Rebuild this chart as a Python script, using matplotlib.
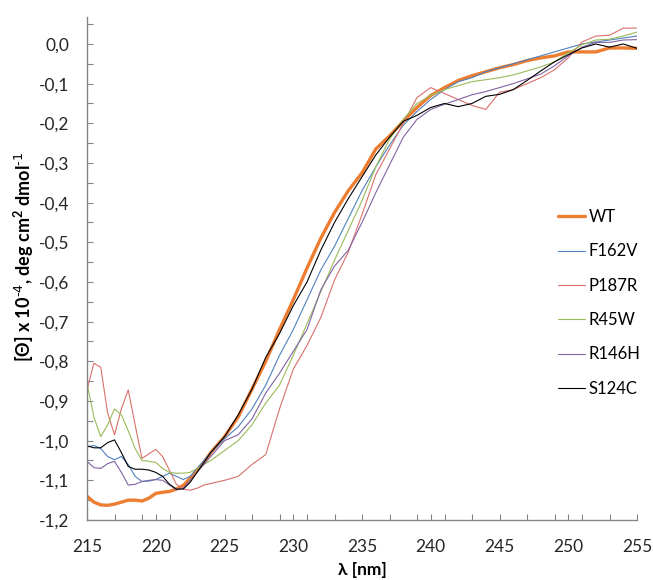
import matplotlib
matplotlib.use("Agg")
import matplotlib.pyplot as plt
from matplotlib.ticker import FixedLocator, FuncFormatter, MultipleLocator

# ---- data ----
wavelength = [215, 215.5, 216, 216.5, 217, 217.5, 218, 218.5, 219, 219.5,
              220, 220.5, 221, 221.5, 222, 222.5, 223, 223.5, 224,
              225, 226, 227, 228, 229, 230, 231, 232, 233, 234, 235,
              236, 237, 238, 239, 240, 241, 242, 243, 244, 245,
              246, 247, 248, 249, 250, 251, 252, 253, 254, 255]

wt = [-1.140, -1.155, -1.162, -1.163, -1.160, -1.155, -1.150, -1.150, -1.152, -1.145,
      -1.133, -1.130, -1.128, -1.122, -1.113, -1.095, -1.075, -1.055, -1.030,
      -0.990, -0.940, -0.870, -0.800, -0.720, -0.645, -0.565, -0.490, -0.425, -0.370, -0.325,
      -0.265, -0.232, -0.195, -0.160, -0.130, -0.110, -0.092, -0.080, -0.070, -0.060,
      -0.052, -0.042, -0.035, -0.030, -0.020, -0.020, -0.020, -0.010, -0.010, -0.011]

f162v = [-1.016, -1.012, -1.020, -1.040, -1.048, -1.040, -1.060, -1.090, -1.103, -1.102,
         -1.098, -1.090, -1.082, -1.090, -1.098, -1.090, -1.070, -1.050, -1.030,
         -0.995, -0.965, -0.920, -0.860, -0.785, -0.720, -0.645, -0.570, -0.510, -0.440, -0.370,
         -0.310, -0.255, -0.205, -0.170, -0.140, -0.115, -0.095, -0.085, -0.070, -0.060,
         -0.050, -0.040, -0.030, -0.020, -0.010, 0.000, 0.005, 0.010, 0.015, 0.020]

p187r = [-0.872, -0.805, -0.815, -0.930, -0.985, -0.920, -0.872, -0.960, -1.045, -1.033,
         -1.022, -1.040, -1.075, -1.110, -1.122, -1.125, -1.120, -1.112, -1.108,
         -1.100, -1.090, -1.060, -1.035, -0.920, -0.820, -0.760, -0.690, -0.595, -0.525, -0.430,
         -0.330, -0.265, -0.200, -0.135, -0.110, -0.125, -0.140, -0.155, -0.165, -0.122,
         -0.115, -0.100, -0.085, -0.065, -0.035, 0.005, 0.020, 0.022, 0.040, 0.040]

r45w = [-0.855, -0.940, -0.990, -0.960, -0.920, -0.935, -0.975, -1.020, -1.050, -1.052,
        -1.055, -1.070, -1.080, -1.082, -1.082, -1.080, -1.070, -1.060, -1.050,
        -1.025, -1.000, -0.960, -0.905, -0.860, -0.785, -0.705, -0.625, -0.545, -0.470, -0.395,
        -0.310, -0.240, -0.190, -0.150, -0.130, -0.115, -0.105, -0.095, -0.090, -0.085,
        -0.078, -0.068, -0.058, -0.045, -0.022, -0.002, 0.010, 0.012, 0.020, 0.030]

r146h = [-1.052, -1.068, -1.070, -1.058, -1.052, -1.080, -1.112, -1.110, -1.103, -1.100,
         -1.098, -1.100, -1.112, -1.124, -1.120, -1.100, -1.080, -1.060, -1.040,
         -1.000, -0.985, -0.945, -0.880, -0.830, -0.775, -0.720, -0.620, -0.560, -0.520, -0.450,
         -0.375, -0.305, -0.235, -0.190, -0.165, -0.152, -0.140, -0.128, -0.120, -0.110,
         -0.100, -0.088, -0.076, -0.055, -0.030, -0.008, 0.004, 0.004, 0.010, 0.011]

s124c = [-1.013, -1.018, -1.018, -1.005, -0.998, -1.030, -1.065, -1.072, -1.072, -1.074,
         -1.080, -1.090, -1.110, -1.122, -1.122, -1.105, -1.080, -1.055, -1.030,
         -0.990, -0.935, -0.870, -0.790, -0.730, -0.660, -0.600, -0.520, -0.450, -0.390, -0.335,
         -0.280, -0.235, -0.195, -0.180, -0.160, -0.150, -0.158, -0.150, -0.132, -0.127,
         -0.115, -0.092, -0.068, -0.045, -0.027, -0.010, 0.000, -0.008, 0.000, -0.011]

names = ['WT', 'F162V', 'P187R', 'R45W', 'R146H', 'S124C']
series = [wt, f162v, p187r, r45w, r146h, s124c]
colors = ['#ED7D31', '#4F81BD', '#D9706C', '#9BBB59', '#8064A2', '#000000']
widths = [2.4, 0.8, 0.8, 0.8, 0.8, 0.8]

# ---- plot ----
plt.rcParams['font.family'] = ['Lato', 'DejaVu Sans']
plt.rcParams['axes.unicode_minus'] = False
plt.rcParams['mathtext.default'] = 'regular'

fig = plt.figure(figsize=(6.53, 5.8), dpi=100)
ax = fig.add_axes([87/653, 60/580, 550/653, 503/580])

for name, vals, c, lw in zip(names, series, colors, widths):
    ax.plot(wavelength, vals, color=c, lw=lw, label=name,
            solid_joinstyle='round', solid_capstyle='round')

ax.set_xlim(215, 255)
ax.set_ylim(-1.2, 0.068)

ax.xaxis.set_major_locator(MultipleLocator(5))
minor_x = sorted(set(range(215, 256, 2)) | set(range(220, 256, 10)))
ax.xaxis.set_minor_locator(FixedLocator(minor_x))
ax.yaxis.set_major_locator(MultipleLocator(0.1))
ax.yaxis.set_minor_locator(MultipleLocator(0.05))
ax.yaxis.set_major_formatter(FuncFormatter(lambda v, p: ('%.1f' % (0.0 if abs(v) < 1e-9 else v)).replace('.', ',')))

for s in ['top', 'right']:
    ax.spines[s].set_visible(False)
for s in ['left', 'bottom']:
    ax.spines[s].set_color('#868686')
    ax.spines[s].set_linewidth(1.0)

ax.tick_params(which='both', direction='in', length=4, width=0.8, color='#868686',
               labelsize=12.5, labelcolor='#262626')
ax.tick_params(axis='x', pad=14)
ax.tick_params(axis='y', pad=13)

ax.set_xlabel('λ [nm]', fontsize=12.5, fontweight='bold', labelpad=5)
fig.text(24/653, 1 - 257/580, r'[Θ] x 10$^{\text{-4}}$, deg cm$^{2}$ dmol$^{\text{-1}}$',
         rotation=90, ha='center', va='center', fontsize=13, fontweight='bold')

leg = ax.legend(loc='upper left', bbox_to_anchor=(558/653, 1 - 209/580),
                bbox_transform=fig.transFigure, frameon=False, fontsize=12,
                handlelength=1.6, handletextpad=0.25, labelspacing=1.1,
                borderpad=0, borderaxespad=0)

fig.savefig('out.png', dpi=100)
